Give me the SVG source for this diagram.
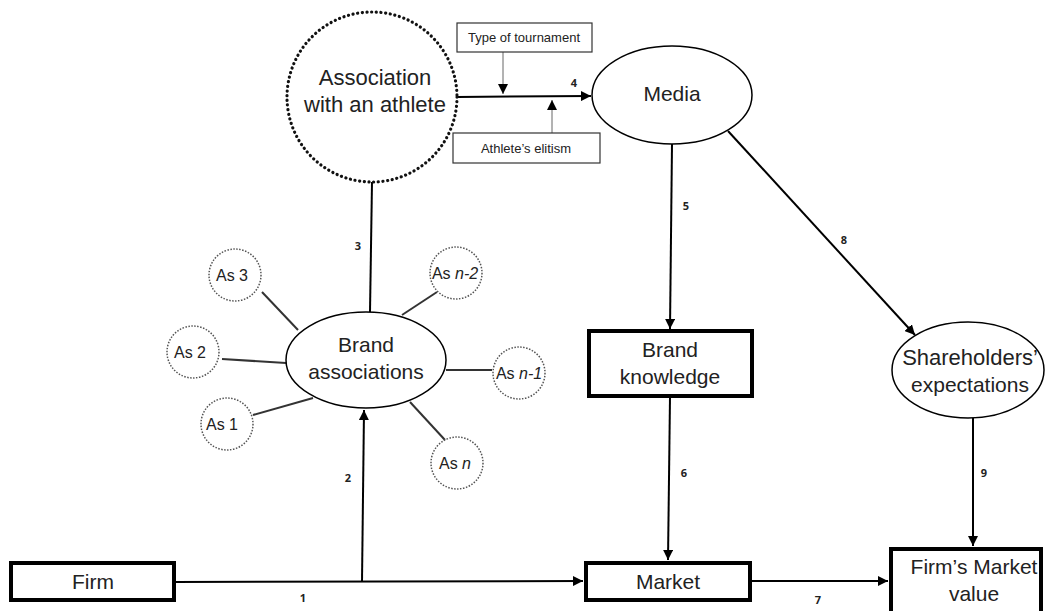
<svg xmlns="http://www.w3.org/2000/svg" width="1045" height="611" viewBox="0 0 1045 611">
<defs>
<marker id="ah" viewBox="0 0 10 10" refX="10" refY="5" markerWidth="5" markerHeight="5" orient="auto" markerUnits="strokeWidth">
<path d="M0,0 L10,5 L0,10 z" fill="#000"/>
</marker>
<marker id="ahs" viewBox="0 0 10 10" refX="10" refY="5" markerWidth="10" markerHeight="10" orient="auto" markerUnits="strokeWidth">
<path d="M0,0 L10,5 L0,10 z" fill="#000"/>
</marker>
</defs>
<style>
text{font-family:"Liberation Sans",Arial,sans-serif;fill:#222;}
.big{font-size:21px;text-anchor:middle;}
.small{font-size:13px;text-anchor:middle;}
.as{font-size:16px;text-anchor:middle;}
.num{font-size:11px;font-weight:bold;font-family:"Open Sans","Liberation Sans",sans-serif;text-anchor:middle;}
.thick{fill:#fff;stroke:#000;stroke-width:4;}
.ell{fill:#fff;stroke:#000;stroke-width:1.5;}
.dot{fill:#fff;stroke:#555;stroke-width:1.5;stroke-dasharray:1.5 1.5;}
.big-dot{fill:#fff;stroke:#111;stroke-width:3.2;stroke-dasharray:0.1 4.6;stroke-linecap:round;}
.ln{stroke:#000;stroke-width:2;fill:none;}
.spoke{stroke:#333;stroke-width:2;fill:none;}
.thin{stroke:#666;stroke-width:1;fill:none;}
.lbox{fill:#fff;stroke:#333;stroke-width:1.2;}
</style>
<g id="connectors">
<line class="ln" x1="175" y1="582" x2="583" y2="581" marker-end="url(#ah)"/>
<line class="ln" x1="362" y1="582" x2="364" y2="410" marker-end="url(#ah)"/>
<line class="ln" x1="372" y1="182" x2="370" y2="312"/>
<line class="ln" x1="457" y1="97" x2="591" y2="96" marker-end="url(#ah)"/>
<line class="ln" x1="672" y1="144" x2="670" y2="329" marker-end="url(#ah)"/>
<line class="ln" x1="728" y1="131" x2="915" y2="335" marker-end="url(#ah)"/>
<line class="ln" x1="670" y1="397" x2="668" y2="560" marker-end="url(#ah)"/>
<line class="ln" x1="751" y1="581" x2="888" y2="581" marker-end="url(#ah)"/>
<line class="ln" x1="973" y1="418" x2="973" y2="546" marker-end="url(#ah)"/>
<line class="thin" x1="503" y1="52" x2="503" y2="94" marker-end="url(#ahs)"/>
<line class="thin" x1="552" y1="133" x2="552" y2="100" marker-end="url(#ahs)"/>
<line class="spoke" x1="262" y1="292" x2="298" y2="330"/>
<line class="spoke" x1="222" y1="359" x2="286" y2="363"/>
<line class="spoke" x1="253" y1="415" x2="313" y2="398"/>
<line class="spoke" x1="402" y1="315" x2="437" y2="292"/>
<line class="spoke" x1="446" y1="370" x2="492" y2="370"/>
<line class="spoke" x1="410" y1="402" x2="445" y2="440"/>
<text class="num" x="303" y="602">1</text>
<text class="num" x="348" y="482">2</text>
<text class="num" x="358" y="250">3</text>
<text class="num" x="574" y="87">4</text>
<text class="num" x="686" y="210">5</text>
<text class="num" x="684" y="477">6</text>
<text class="num" x="818" y="604">7</text>
<text class="num" x="844" y="244">8</text>
<text class="num" x="984" y="477">9</text>
</g>
<g id="association">
<circle class="big-dot" cx="372" cy="97" r="85"/>
<text class="big" x="375" y="85" style="font-size:22px">Association</text>
<text class="big" x="375" y="112" style="font-size:22px">with an athlete</text>
</g>
<g id="type-tournament">
<rect class="lbox" x="457" y="23" width="135" height="29"/>
<text class="small" x="524" y="42">Type of tournament</text>
</g>
<g id="athlete-elitism">
<rect class="lbox" x="453" y="133" width="147" height="30"/>
<text class="small" x="526" y="153">Athlete’s elitism</text>
</g>
<g id="media">
<ellipse class="ell" cx="672" cy="95" rx="80" ry="49"/>
<text class="big" x="672" y="101">Media</text>
</g>
<g id="brand-associations">
<ellipse class="ell" cx="366" cy="360" rx="80" ry="48"/>
<text class="big" x="366" y="352">Brand</text>
<text class="big" x="366" y="379">associations</text>
</g>
<g id="as3"><circle class="dot" cx="235" cy="275" r="26"/><text class="as" x="232" y="281">As 3</text></g>
<g id="as2"><circle class="dot" cx="193" cy="352" r="26"/><text class="as" x="190" y="358">As 2</text></g>
<g id="as1"><circle class="dot" cx="227" cy="424" r="26"/><text class="as" x="222" y="430">As 1</text></g>
<g id="asn2"><circle class="dot" cx="456" cy="273" r="26"/><text class="as" x="455" y="279">As <tspan font-style="italic">n-2</tspan></text></g>
<g id="asn1"><circle class="dot" cx="519" cy="373" r="26"/><text class="as" x="519" y="379">As <tspan font-style="italic">n-1</tspan></text></g>
<g id="asn"><circle class="dot" cx="457" cy="463" r="26"/><text class="as" x="455" y="469">As <tspan font-style="italic">n</tspan></text></g>
<g id="brand-knowledge">
<rect class="thick" x="589" y="331" width="163" height="65"/>
<text class="big" x="670" y="357">Brand</text>
<text class="big" x="670" y="384">knowledge</text>
</g>
<g id="shareholders">
<ellipse class="ell" cx="968" cy="370" rx="76" ry="48"/>
<text class="big" x="970" y="365" style="font-size:22px">Shareholders’</text>
<text class="big" x="970" y="392">expectations</text>
</g>
<g id="firm">
<rect class="thick" x="11" y="563" width="163" height="37"/>
<text class="big" x="93" y="589">Firm</text>
</g>
<g id="market">
<rect class="thick" x="586" y="563" width="164" height="37"/>
<text class="big" x="668" y="589">Market</text>
</g>
<g id="firm-market-value">
<rect class="thick" x="891" y="549" width="150" height="70"/>
<text class="big" x="974" y="574">Firm’s Market</text>
<text class="big" x="974" y="601">value</text>
</g>
</svg>
